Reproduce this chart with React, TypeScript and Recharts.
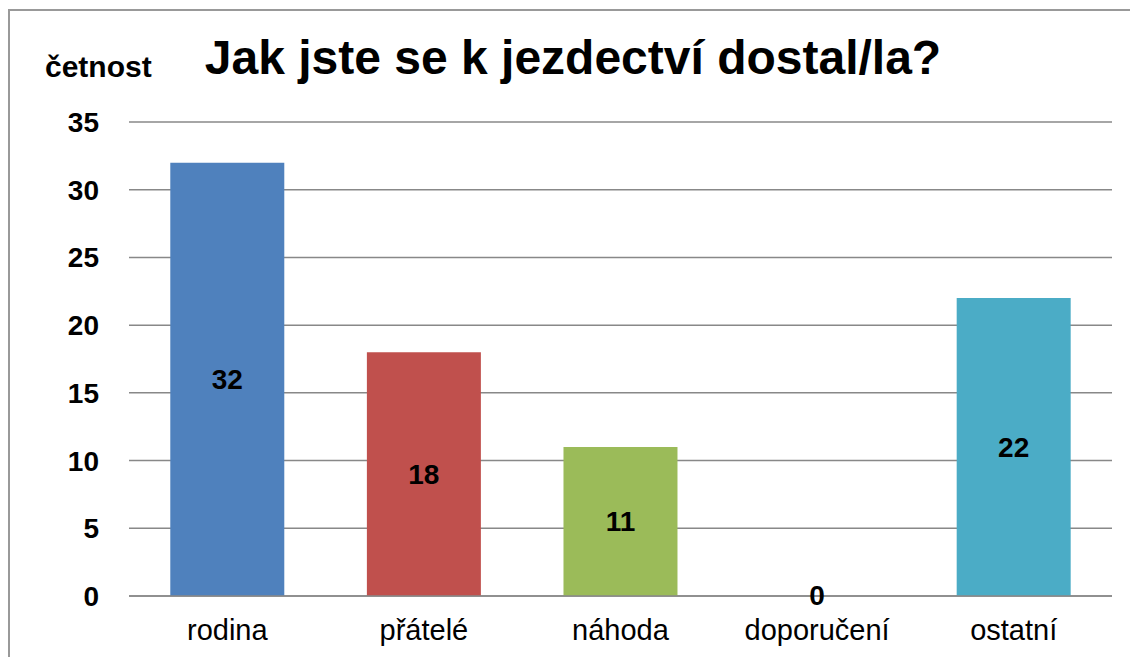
import { BarChart, Bar, XAxis, YAxis, CartesianGrid, LabelList, Cell } from "recharts";

const categories = ["rodina", "přátelé", "náhoda", "doporučení", "ostatní"];
const counts = [32, 18, 11, 0, 22];
const barColors = ["#4F81BD", "#C0504D", "#9BBB59", "#8064A2", "#4BACC6"];
const yTicks = [0, 5, 10, 15, 20, 25, 30, 35];

const data = categories.map((name, i) => ({ name, count: counts[i] }));

const font = "'Liberation Sans', Arial, sans-serif";

// a zero bar gets 1px (invisible) so its "0" label is still drawn
const minSize = (value: any) => (Number(value) === 0 ? 1 : 0);

function ValueLabel(props: any) {
  const { x, y, width, height, value } = props;
  if (x == null || y == null) return null;
  return (
    <text
      x={Number(x) + Number(width) / 2}
      y={Number(y) + Number(height || 0) / 2}
      dy="0.355em"
      textAnchor="middle"
      fill="#000"
      fontSize={28}
      fontWeight="bold"
      fontFamily={font}
    >
      {String(value)}
    </text>
  );
}

export default function App() {
  return (
    <div
      style={{
        position: "absolute",
        left: 0,
        top: 0,
        width: 1130,
        height: 657,
        overflow: "hidden",
        background: "#fff",
        fontFamily: font,
      }}
    >
      <div
        style={{
          position: "absolute",
          left: 8,
          top: 9,
          width: 1200,
          height: 700,
          border: "2px solid #999",
        }}
      />
      <div
        style={{
          position: "absolute",
          left: 45,
          top: 52,
          fontSize: 30,
          lineHeight: 1,
          fontWeight: "bold",
          color: "#000",
        }}
      >
        četnost
      </div>
      <div
        style={{
          position: "absolute",
          left: 0,
          width: 1146,
          top: 34,
          textAlign: "center",
          fontSize: 48,
          lineHeight: 1,
          fontWeight: "bold",
          color: "#000",
        }}
      >
        Jak jste se k jezdectví dostal/la?
      </div>
      <div style={{ position: "absolute", left: 0, top: 0 }}>
        <BarChart
          width={1130}
          height={657}
          data={data}
          margin={{ top: 122, right: 18, bottom: 0, left: 69 }}
          barCategoryGap="21%"
        >
          <CartesianGrid vertical={false} stroke="#888" strokeWidth={1.5} />
          <XAxis
            dataKey="name"
            height={61}
            tickLine={false}
            axisLine={{ stroke: "#888", strokeWidth: 1.5 }}
            tickSize={0}
            tickMargin={23}
            tick={{ fill: "#000", fontSize: 29, fontFamily: font }}
          />
          <YAxis
            width={60}
            domain={[0, 35]}
            ticks={yTicks}
            interval={0}
            axisLine={false}
            tickLine={false}
            tickSize={0}
            tickMargin={30}
            tick={{ fill: "#000", fontSize: 28, fontWeight: "bold", fontFamily: font }}
          />
          <Bar dataKey="count" isAnimationActive={false} minPointSize={minSize}>
            {data.map((d, i) => (
              <Cell key={d.name} fill={barColors[i]} fillOpacity={d.count === 0 ? 0 : 1} />
            ))}
            <LabelList dataKey="count" content={ValueLabel} />
          </Bar>
        </BarChart>
      </div>
    </div>
  );
}
